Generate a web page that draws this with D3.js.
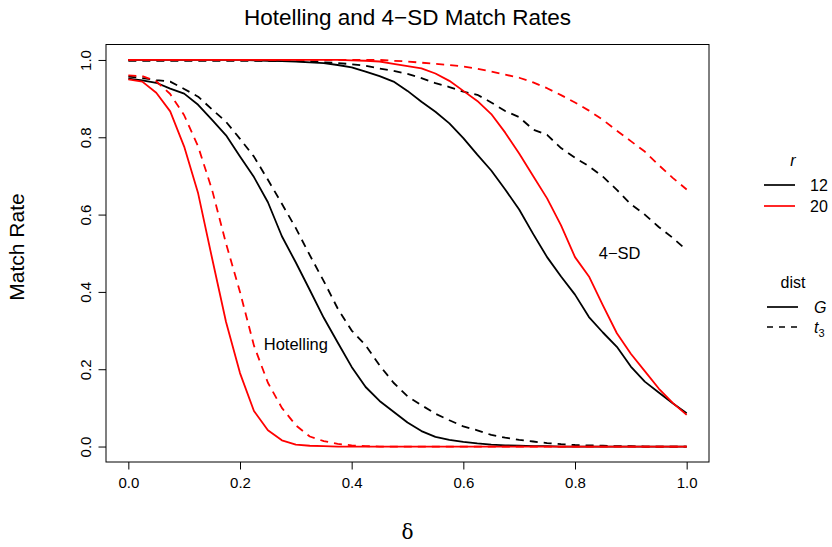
<!DOCTYPE html>
<html lang="en">
<head>
<meta charset="UTF-8">
<title>Hotelling and 4-SD Match Rates</title>
<script src="https://d3js.org/d3.v7.min.js"></script>
<style>
    body { margin: 0; background: #fff; }
    svg { display: block; font-family: "Liberation Sans", Arial, sans-serif; }
    .tick text { font-size: 15px; fill: #000; }
</style>
</head>
<body>
<div id="chart"></div>
<script>
// delta values (x) read at 0.025 steps
const delta = [0, 0.025, 0.05, 0.075, 0.1, 0.125, 0.15, 0.175, 0.2, 0.225,
    0.25, 0.275, 0.3, 0.325, 0.35, 0.375, 0.4, 0.425, 0.45, 0.475,
    0.5, 0.525, 0.55, 0.575, 0.6, 0.625, 0.65, 0.675, 0.7, 0.725,
    0.75, 0.775, 0.8, 0.825, 0.85, 0.875, 0.9, 0.925, 0.95, 0.975, 1];

// Hotelling match rates
const hotR12G = [0.952, 0.947, 0.941, 0.926, 0.913, 0.884, 0.845, 0.805, 0.75, 0.697,
    0.632, 0.544, 0.476, 0.405, 0.333, 0.269, 0.206, 0.154, 0.118, 0.09,
    0.062, 0.04, 0.025, 0.017, 0.012, 0.008, 0.005, 0.003, 0.002, 0.001,
    0.001, 0, 0, 0, 0, 0, 0, 0, 0, 0, 0];
const hotR12T3 = [0.957, 0.953, 0.948, 0.944, 0.925, 0.905, 0.872, 0.84, 0.796, 0.75,
    0.69, 0.628, 0.565, 0.495, 0.428, 0.357, 0.3, 0.262, 0.21, 0.165,
    0.13, 0.107, 0.085, 0.068, 0.052, 0.042, 0.03, 0.023, 0.017, 0.013,
    0.009, 0.006, 0.004, 0.003, 0.002, 0.001, 0.001, 0, 0, 0, 0];
const hotR20G = [0.95, 0.944, 0.915, 0.867, 0.776, 0.655, 0.487, 0.322, 0.19, 0.092,
    0.042, 0.016, 0.005, 0.002, 0.001, 0, 0, 0, 0, 0,
    0, 0, 0, 0, 0, 0, 0, 0, 0, 0,
    0, 0, 0, 0, 0, 0, 0, 0, 0, 0, 0];
const hotR20T3 = [0.96, 0.958, 0.945, 0.912, 0.857, 0.776, 0.664, 0.525, 0.4, 0.261,
    0.165, 0.1, 0.055, 0.026, 0.014, 0.007, 0.003, 0.001, 0, 0,
    0, 0, 0, 0, 0, 0, 0, 0, 0, 0,
    0, 0, 0, 0, 0, 0, 0, 0, 0, 0, 0];

// 4-SD match rates
const sdR12G = [1, 1, 1, 1, 1, 1, 1, 1, 1, 0.999,
    0.998, 0.997, 0.996, 0.994, 0.992, 0.987, 0.981, 0.97, 0.958, 0.944,
    0.92, 0.892, 0.866, 0.836, 0.798, 0.755, 0.714, 0.665, 0.613, 0.55,
    0.49, 0.44, 0.393, 0.335, 0.295, 0.258, 0.207, 0.168, 0.14, 0.112, 0.086];
const sdR12T3 = [0.998, 0.998, 0.998, 0.998, 0.998, 0.998, 0.998, 0.998, 0.998, 0.998,
    0.998, 0.997, 0.997, 0.996, 0.994, 0.992, 0.989, 0.985, 0.978, 0.972,
    0.964, 0.953, 0.94, 0.93, 0.918, 0.91, 0.89, 0.868, 0.852, 0.82,
    0.806, 0.772, 0.747, 0.725, 0.698, 0.664, 0.627, 0.6, 0.568, 0.54, 0.508];
const sdR20G = [1, 1, 1, 1, 1, 1, 1, 1, 1, 1,
    1, 1, 1, 1, 1, 1, 0.999, 0.998, 0.996, 0.99,
    0.984, 0.978, 0.965, 0.946, 0.92, 0.894, 0.86, 0.812, 0.758, 0.7,
    0.642, 0.572, 0.49, 0.44, 0.365, 0.293, 0.24, 0.195, 0.15, 0.113, 0.082];
const sdR20T3 = [1, 1, 1, 1, 1, 1, 1, 1, 1, 1,
    1, 1, 1, 1, 1, 1, 1, 1, 1, 0.998,
    0.996, 0.993, 0.99, 0.987, 0.983, 0.977, 0.97, 0.962, 0.954, 0.942,
    0.927, 0.909, 0.89, 0.869, 0.845, 0.817, 0.79, 0.763, 0.728, 0.695, 0.665];

const xTicks = [0, 0.2, 0.4, 0.6, 0.8, 1.0];
const yTicks = [0, 0.2, 0.4, 0.6, 0.8, 1.0];

const series = [
    { values: hotR12G, color: "#000", dashed: false },
    { values: hotR12T3, color: "#000", dashed: true },
    { values: hotR20G, color: "#ff0000", dashed: false },
    { values: hotR20T3, color: "#ff0000", dashed: true },
    { values: sdR12G, color: "#000", dashed: false },
    { values: sdR12T3, color: "#000", dashed: true },
    { values: sdR20G, color: "#ff0000", dashed: false },
    { values: sdR20T3, color: "#ff0000", dashed: true }
];

const W = 832, H = 547;
const box = { left: 106, right: 709, top: 44.5, bottom: 462 };

const svg = d3.select("#chart").append("svg")
    .attr("width", W).attr("height", H);

// R-style 4% padding on both axes
const x = d3.scaleLinear().domain([-0.04, 1.04]).range([box.left, box.right]);
const y = d3.scaleLinear().domain([-0.04, 1.04]).range([box.bottom, box.top]);

// curves
const line = d3.line()
    .x((d, i) => x(delta[i]))
    .y(d => y(d));

const plot = svg.append("g");
plot.append("clipPath").attr("id", "clip")
    .append("rect")
    .attr("x", box.left).attr("y", box.top)
    .attr("width", box.right - box.left).attr("height", box.bottom - box.top);

series.forEach(s => {
    plot.append("path")
        .datum(s.values)
        .attr("clip-path", "url(#clip)")
        .attr("fill", "none")
        .attr("stroke", s.color)
        .attr("stroke-width", 1.8)
        .attr("stroke-linejoin", "round")
        .attr("stroke-dasharray", s.dashed ? "8,6" : null)
        .attr("d", line);
});

// plot box
svg.append("rect")
    .attr("x", box.left).attr("y", box.top)
    .attr("width", box.right - box.left).attr("height", box.bottom - box.top)
    .attr("fill", "none").attr("stroke", "#000").attr("stroke-width", 1);

// x axis
const xAxis = svg.append("g")
    .attr("transform", `translate(0,${box.bottom})`)
    .call(d3.axisBottom(x).tickValues(xTicks).tickFormat(d3.format(".1f"))
        .tickSize(7.5).tickSizeOuter(0).tickPadding(7.5));
xAxis.select(".domain").remove();
xAxis.selectAll("line").attr("stroke", "#000");

// y axis, labels rotated like R's las=0
const yAxis = svg.append("g")
    .attr("transform", `translate(${box.left},0)`)
    .call(d3.axisLeft(y).tickValues(yTicks).tickFormat(d3.format(".1f"))
        .tickSize(7.5).tickSizeOuter(0));
yAxis.select(".domain").remove();
yAxis.selectAll("line").attr("stroke", "#000");
yAxis.selectAll(".tick text")
    .attr("x", null).attr("dy", null)
    .attr("text-anchor", "middle")
    .attr("transform", "translate(-15.5,0) rotate(-90)");

// title and axis labels
svg.append("text")
    .attr("x", (box.left + box.right) / 2).attr("y", 25)
    .attr("text-anchor", "middle")
    .style("font-size", "22.5px")
    .text("Hotelling and 4\u2212SD Match Rates");

svg.append("text")
    .attr("transform", "translate(23.5,247) rotate(-90)")
    .attr("text-anchor", "middle")
    .style("font-size", "21px")
    .text("Match Rate");

svg.append("text")
    .attr("x", (box.left + box.right) / 2).attr("y", 539)
    .attr("text-anchor", "middle")
    .style("font-family", "'DejaVu Serif', 'Liberation Serif', serif")
    .style("font-size", "20px")
    .text("\u03b4");

// curve annotations
svg.append("text")
    .attr("x", x(0.3)).attr("y", y(0.25))
    .attr("text-anchor", "middle")
    .style("font-size", "16.5px")
    .text("Hotelling");

svg.append("text")
    .attr("x", x(0.88)).attr("y", y(0.485))
    .attr("text-anchor", "middle")
    .style("font-size", "16.5px")
    .text("4\u2212SD");

// legends
const legR = [
    { label: "12", color: "#000" },
    { label: "20", color: "#ff0000" }
];
const legDist = [
    { label: "G", dashed: false },
    { label: "t", sub: "3", dashed: true }
];

const leg1 = svg.append("g").attr("transform", "translate(764,0)");
leg1.append("text")
    .attr("x", 29).attr("y", 166)
    .attr("text-anchor", "middle")
    .style("font-size", "16px").style("font-style", "italic")
    .text("r");
legR.forEach((d, i) => {
    const yy = 185 + i * 21;
    leg1.append("line")
        .attr("x1", 0).attr("x2", 31).attr("y1", yy).attr("y2", yy)
        .attr("stroke", d.color).attr("stroke-width", 1.7);
    leg1.append("text")
        .attr("x", 46).attr("y", yy + 6)
        .style("font-size", "16px")
        .text(d.label);
});

const leg2 = svg.append("g").attr("transform", "translate(767,0)");
leg2.append("text")
    .attr("x", 26).attr("y", 288)
    .attr("text-anchor", "middle")
    .style("font-size", "16px")
    .text("dist");
legDist.forEach((d, i) => {
    const yy = 307 + i * 20;
    leg2.append("line")
        .attr("x1", 0).attr("x2", 31).attr("y1", yy).attr("y2", yy)
        .attr("stroke", "#000").attr("stroke-width", 1.7)
        .attr("stroke-dasharray", d.dashed ? "6,6" : null);
    const t = leg2.append("text")
        .attr("x", 47).attr("y", yy + 6)
        .style("font-size", "16px").style("font-style", "italic")
        .text(d.label);
    if (d.sub) {
        t.append("tspan")
            .attr("dy", 4)
            .style("font-size", "11px").style("font-style", "normal")
            .text(d.sub);
    }
});
</script>
</body>
</html>
